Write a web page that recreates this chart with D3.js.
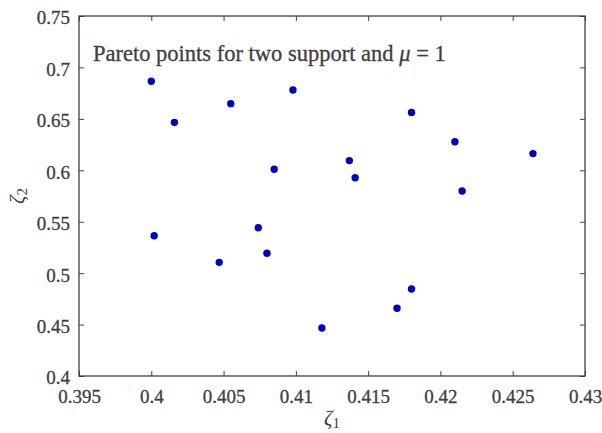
<!DOCTYPE html>
<html>
<head>
<meta charset="utf-8">
<script src="https://cdn.jsdelivr.net/npm/d3@7"></script>
<style>
  body { margin: 0; background: #fff; }
</style>
</head>
<body>
<script>
/* Data */
var zeta1 = [0.4000, 0.4016, 0.4055, 0.4098, 0.4085, 0.4180, 0.4210, 0.4264, 0.4137,
             0.4141, 0.4215, 0.4002, 0.4047, 0.4074, 0.4080, 0.4118, 0.4170, 0.4180];
var zeta2 = [0.6866, 0.6466, 0.6648, 0.6780, 0.6010, 0.6563, 0.6278, 0.6162, 0.6094,
             0.5928, 0.5799, 0.5364, 0.5105, 0.5442, 0.5193, 0.4467, 0.4658, 0.4846];
var xTicks = [0.395, 0.4, 0.405, 0.41, 0.415, 0.42, 0.425, 0.43];
var yTicks = [0.4, 0.45, 0.5, 0.55, 0.6, 0.65, 0.7, 0.75];

/* Display setup */
var width = 602, height = 433,
	margin = {top: 16, right: 17, bottom: 57, left: 79},
	plotW = width - margin.left - margin.right,
	plotH = height - margin.top - margin.bottom,
	axisColor = "#404040",
	serif = "'Liberation Serif'";

var svg = d3.select("body").append("svg")
	.attr("width", width)
	.attr("height", height);

var g = svg.append("g")
	.attr("transform", "translate(" + margin.left + "," + margin.top + ")");

var x = d3.scaleLinear().domain([0.395, 0.43]).range([0, plotW]),
	y = d3.scaleLinear().domain([0.4, 0.75]).range([plotH, 0]);

/* Axes (MATLAB style, ticks inward, box on) */
function styleAxis(sel) {
	sel.attr("font-family", null).attr("font-size", null);
	sel.select(".domain").remove();
	sel.selectAll(".tick line").attr("stroke", axisColor);
	sel.selectAll(".tick text")
		.attr("fill", axisColor)
		.style("font-family", serif)
		.style("font-size", "19px")
		.style("stroke", axisColor)
		.style("stroke-width", "0.3px");
}

g.append("g")
	.attr("class", "xaxis")
	.attr("transform", "translate(0," + plotH + ")")
	.call(d3.axisBottom(x).tickValues(xTicks).tickSize(-5).tickPadding(14)
		.tickFormat(function(d) { return String(+d.toFixed(3)); }))
	.call(styleAxis);

g.append("g")
	.call(d3.axisTop(x).tickValues(xTicks).tickSize(-5).tickFormat(""))
	.call(styleAxis);

g.append("g")
	.attr("class", "yaxis")
	.call(d3.axisLeft(y).tickValues(yTicks).tickSize(-5).tickPadding(9)
		.tickFormat(function(d) { return String(+d.toFixed(2)); }))
	.call(styleAxis);

g.selectAll(".yaxis .tick text").attr("dy", "0.42em");

g.append("g")
	.attr("transform", "translate(" + plotW + ",0)")
	.call(d3.axisRight(y).tickValues(yTicks).tickSize(-5).tickFormat(""))
	.call(styleAxis);

g.append("rect")
	.attr("width", plotW)
	.attr("height", plotH)
	.attr("fill", "none")
	.attr("stroke", axisColor)
	.attr("stroke-width", 1.3);

/* Points */
var points = zeta1.map(function(d, i) { return {x: d, y: zeta2[i]}; });

g.selectAll("circle.pt")
	.data(points)
	.enter().append("circle")
		.attr("class", "pt")
		.attr("cx", function(d) { return x(d.x); })
		.attr("cy", function(d) { return y(d.y); })
		.attr("r", 3.7)
		.attr("fill", "#0000c0");

/* Annotation */
var note = g.append("text")
	.attr("x", 14)
	.attr("y", 45)
	.attr("fill", axisColor)
	.style("font-family", serif)
	.style("font-size", "20px")
	.style("stroke", axisColor)
	.style("stroke-width", "0.3px");
note.append("tspan").text("Pareto points for two support and ");
note.append("tspan").style("font-style", "italic").text("\u03bc");
note.append("tspan").text(" = 1");
// fit to the width of the original annotation
var noteW = note.node().getComputedTextLength();
note.style("font-size", (20 * 353 / noteW) + "px");

/* Axis labels */
var xl = svg.append("text")
	.attr("x", margin.left + plotW / 2)
	.attr("y", height - 8)
	.attr("text-anchor", "middle")
	.attr("fill", axisColor)
	.style("font-family", serif)
	.style("font-size", "21px");
xl.append("tspan").style("font-style", "italic").text("\u03b6");
xl.append("tspan").attr("dy", 3).style("font-size", "15px").text("1");

var yl = svg.append("text")
	.attr("transform", "translate(24," + (margin.top + plotH / 2) + ") rotate(-90)")
	.attr("text-anchor", "middle")
	.attr("fill", axisColor)
	.style("font-family", serif)
	.style("font-size", "21px");
yl.append("tspan").style("font-style", "italic").text("\u03b6");
yl.append("tspan").attr("dy", 3).style("font-size", "15px").text("2");
</script>
</body>
</html>
